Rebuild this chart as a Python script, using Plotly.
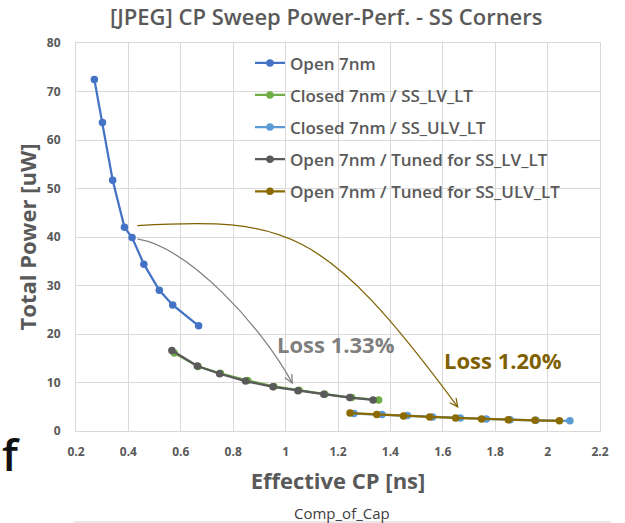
import numpy as np
import plotly.graph_objects as go

# ---- data ----
open_x = [0.270, 0.301, 0.340, 0.385, 0.414, 0.459, 0.518, 0.569, 0.668]
open_y = [72.5, 63.6, 51.7, 42.0, 39.9, 34.4, 29.0, 26.0, 21.7]

closed_lv_x = [0.575, 0.666, 0.751, 0.855, 0.955, 1.051, 1.150, 1.252, 1.355]
closed_lv_y = [16.1, 13.3, 11.9, 10.4, 9.2, 8.4, 7.6, 6.9, 6.4]

closed_ulv_x = [1.261, 1.368, 1.465, 1.561, 1.667, 1.766, 1.857, 1.955, 2.085]
closed_ulv_y = [3.6, 3.4, 3.2, 2.9, 2.7, 2.5, 2.3, 2.2, 2.1]

tuned_lv_x = [0.566, 0.663, 0.748, 0.847, 0.952, 1.047, 1.146, 1.245, 1.334]
tuned_lv_y = [16.6, 13.4, 11.8, 10.3, 9.1, 8.3, 7.6, 6.9, 6.4]

tuned_ulv_x = [1.246, 1.348, 1.450, 1.550, 1.649, 1.748, 1.850, 1.952, 2.045]
tuned_ulv_y = [3.7, 3.4, 3.1, 2.9, 2.7, 2.5, 2.3, 2.2, 2.1]

series_names = ["Open 7nm", "Closed 7nm / SS_LV_LT", "Closed 7nm / SS_ULV_LT",
                "Open 7nm / Tuned for SS_LV_LT", "Open 7nm / Tuned for SS_ULV_LT"]
series_colors = ["#4472C4", "#70AD47", "#5B9BD5", "#5A5A5A", "#8B6B00"]

x_ticks = [0.2, 0.4, 0.6, 0.8, 1.0, 1.2, 1.4, 1.6, 1.8, 2.0, 2.2]
x_ticklabels = ["0.2", "0.4", "0.6", "0.8", "1", "1.2", "1.4", "1.6", "1.8", "2", "2.2"]
y_ticks = [0, 10, 20, 30, 40, 50, 60, 70, 80]

loss_labels = ["Loss 1.33%", "Loss 1.20%"]

FONT = "Open Sans"
GREY = "#595959"

fig = go.Figure()
all_x = [open_x, closed_lv_x, closed_ulv_x, tuned_lv_x, tuned_ulv_x]
all_y = [open_y, closed_lv_y, closed_ulv_y, tuned_lv_y, tuned_ulv_y]
for i, (xs, ys) in enumerate(zip(all_x, all_y)):
    fig.add_trace(go.Scatter(
        x=xs, y=ys, mode="lines+markers", name=series_names[i],
        legendgroup=f"g{i}",
        line=dict(color=series_colors[i], width=2.25),
        marker=dict(color=series_colors[i], size=7.5),
    ))

# curved arrows (annotations) as bezier paths in data coords
arrow_gray = ((0.4347, 39.59), (0.6351, 37.73), (0.9099, 21.44), (1.0252, 9.90))
arrow_brown = ((0.4340, 42.37), (1.0008, 43.92), (1.1416, 42.68), (1.6569, 4.98))
arrow_cols = ["#7F7F7F", "#7F6000"]


def bez_path(p):
    (a, b), (c, d), (e, f), (g, h) = p
    return f"M {a},{b} C {c},{d} {e},{f} {g},{h}"


for p, col in zip([arrow_gray, arrow_brown], arrow_cols):
    fig.add_shape(type="path", path=bez_path(p), xref="x", yref="y",
                  line=dict(color=col, width=1.25))

# arrowheads: open V in pixel space anchored at tips
PX_PER_X = 262.0
PX_PER_Y = 4.85
for p, col in zip([arrow_gray, arrow_brown], arrow_cols):
    (ex, ey), (tx, ty) = p[2], p[3]
    dx = (tx - ex) * PX_PER_X
    dy = (ty - ey) * PX_PER_Y  # y up
    n = np.hypot(dx, dy)
    bx, by = -dx / n, -dy / n
    L = 9
    ang = np.deg2rad(26)
    pts = []
    for s in (1, -1):
        ca, sa = np.cos(s * ang), np.sin(s * ang)
        pts.append((L * (bx * ca - by * sa), L * (bx * sa + by * ca)))
    path = f"M {pts[0][0]:.2f},{pts[0][1]:.2f} L 0,0 L {pts[1][0]:.2f},{pts[1][1]:.2f}"
    fig.add_shape(type="path", path=path, xref="x", yref="y",
                  xsizemode="pixel", ysizemode="pixel", xanchor=tx, yanchor=ty,
                  line=dict(color=col, width=1.25))

fig.add_annotation(x=1.194, y=18.0, xref="x", yref="y", text=loss_labels[0], showarrow=False,
                   font=dict(family=FONT, size=22, color="#7F7F7F", weight=700))
fig.add_annotation(x=1.828, y=14.6, xref="x", yref="y", text=loss_labels[1], showarrow=False,
                   font=dict(family=FONT, size=22, color="#7F6000", weight=700))

# stray text from the surrounding slide
fig.add_annotation(x=-0.145, y=-0.06, xref="paper", yref="paper", text="f", showarrow=False,
                   xanchor="left", yanchor="middle",
                   font=dict(family=FONT, size=44, color="#111111", weight=600))
fig.add_annotation(x=0.508, y=-0.211, xref="paper", yref="paper", text="Comp_of_Cap", showarrow=False,
                   xanchor="center", yanchor="middle",
                   font=dict(family=FONT, size=15, color="#404040"))
fig.add_shape(type="line", xref="paper", yref="paper", x0=-0.005, x1=1.02, y0=-0.2345, y1=-0.2345,
              line=dict(color="#D0D0D0", width=1))

fig.update_layout(
    width=625, height=523,
    margin=dict(l=76, r=25, t=43, b=92),
    paper_bgcolor="white", plot_bgcolor="white",
    title=dict(text="[JPEG] CP Sweep Power-Perf. - SS Corners", x=0.522, xanchor="center",
               y=0.966, yanchor="middle",
               font=dict(family=FONT, size=22, color=GREY, weight=600)),
    legend=dict(x=0.332, y=0.994, xanchor="left", yanchor="top", bgcolor="rgba(0,0,0,0)",
                font=dict(family=FONT, size=17, color=GREY, weight=600),
                tracegroupgap=7, traceorder="grouped"),
    xaxis=dict(range=[0.2, 2.2], tickvals=x_ticks, ticktext=x_ticklabels,
               showgrid=True, gridcolor="#D9D9D9", gridwidth=1, zeroline=False,
               showline=True, linecolor="#D9D9D9", mirror=True,
               ticks="", ticklabelstandoff=10,
               tickfont=dict(family=FONT, size=12, color=GREY, weight=700),
               title=dict(text="Effective CP [ns]", standoff=14,
                          font=dict(family=FONT, size=22, color=GREY, weight=700))),
    yaxis=dict(range=[0, 80], tickvals=y_ticks,
               showgrid=True, gridcolor="#D9D9D9", gridwidth=1, zeroline=False,
               showline=True, linecolor="#D9D9D9", mirror=True,
               ticks="", ticklabelstandoff=12,
               tickfont=dict(family=FONT, size=12, color=GREY, weight=700),
               title=dict(text="Total Power [uW]", standoff=4,
                          font=dict(family=FONT, size=22, color=GREY, weight=700))),
)

fig.write_html("out.html", config={"displayModeBar": False},
               post_script="document.body.style.margin='0px';")
